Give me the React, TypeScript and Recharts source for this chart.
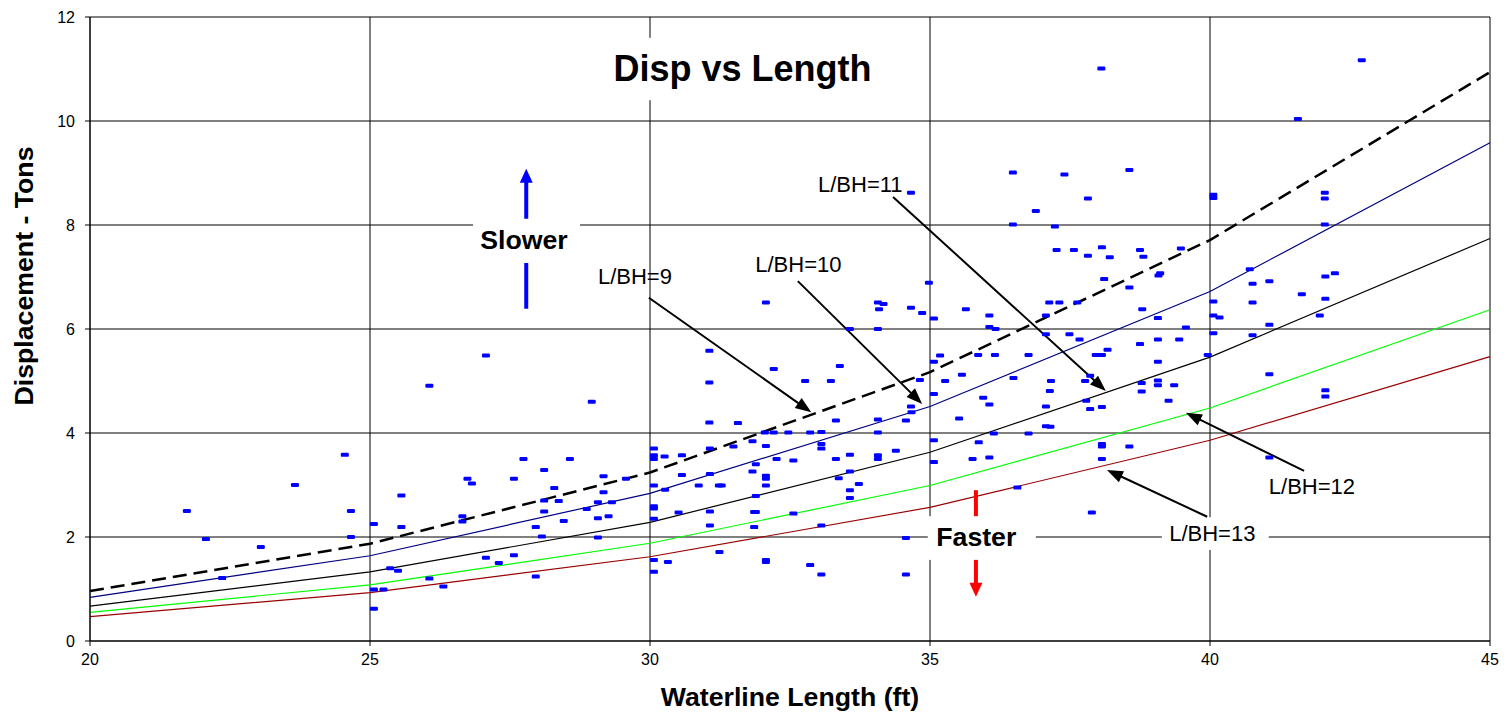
import React from 'react';
import {
  ComposedChart,
  Line,
  Scatter,
  XAxis,
  YAxis,
  CartesianGrid,
  ReferenceLine,
  ReferenceArea,
  ReferenceDot,
} from 'recharts';

const FONT = '"Liberation Sans", Arial, Helvetica, sans-serif';

// ---------- data ----------
const lengthsFt = [20, 25, 30, 35, 40, 45];
const dispTicks = [0, 2, 4, 6, 8, 10, 12];

const lbh9 = [0.96, 1.87, 3.24, 5.17, 7.71, 10.94];
const lbh10 = [0.84, 1.64, 2.84, 4.51, 6.72, 9.58];
const lbh11 = [0.67, 1.33, 2.28, 3.63, 5.46, 7.74];
const lbh12 = [0.55, 1.08, 1.88, 2.99, 4.48, 6.37];
const lbh13 = [0.47, 0.93, 1.62, 2.57, 3.86, 5.47];

// [waterline length ft, displacement tons]
const boats: [number, number][] = [
  [21.73, 2.5], [22.07, 1.96], [22.36, 1.21], [23.05, 1.81], [23.66, 3.0], [24.55, 3.58],
  [24.66, 2.5], [24.66, 2.0], [25.07, 2.25], [25.56, 2.8], [25.56, 2.19], [25.36, 1.4],
  [25.5, 1.35], [25.07, 0.99], [25.24, 0.99], [25.07, 0.62], [26.06, 1.2], [26.06, 4.91],
  [27.07, 5.49], [28.96, 4.6], [31.06, 5.58], [31.06, 4.97], [32.07, 6.51], [32.21, 5.23],
  [31.06, 4.2], [31.57, 4.19], [32.05, 4.01], [32.21, 4.01], [32.47, 4.01], [26.65, 2.4],
  [26.65, 2.3], [26.31, 1.05], [26.74, 3.12], [26.82, 3.03], [27.74, 3.5], [27.57, 3.12],
  [28.11, 3.29], [28.57, 3.5], [28.29, 2.94], [28.11, 2.7], [28.37, 2.69], [28.11, 2.49],
  [27.96, 2.19], [28.07, 2.01], [28.46, 2.31], [29.17, 3.17], [29.17, 2.86], [29.07, 2.67],
  [29.32, 2.67], [28.87, 2.54], [29.07, 2.36], [29.26, 2.4], [29.07, 1.99], [29.57, 3.12],
  [27.07, 1.6], [27.3, 1.5], [27.57, 1.65], [27.96, 1.24], [30.07, 3.7], [30.07, 3.57],
  [30.07, 3.5], [30.26, 3.55], [30.57, 3.57], [31.07, 3.7], [31.49, 3.74], [31.83, 3.84],
  [32.07, 3.75], [30.07, 2.99], [30.27, 2.91], [30.57, 3.19], [31.07, 3.21], [30.87, 2.99],
  [31.23, 2.99], [31.28, 2.99], [31.83, 3.26], [31.89, 3.4], [32.07, 3.18], [32.07, 3.12],
  [32.07, 2.99], [32.26, 3.5], [31.89, 2.79], [30.07, 2.59], [30.07, 2.55], [30.07, 2.35],
  [30.51, 2.47], [31.07, 2.49], [31.07, 2.22], [31.86, 2.48], [31.89, 2.48], [31.86, 2.19],
  [31.24, 1.71], [30.07, 1.56], [30.32, 1.52], [30.07, 1.33], [32.07, 1.56], [32.07, 1.52],
  [38.06, 11.01], [34.66, 8.62], [36.48, 9.01], [37.4, 8.97], [38.56, 9.06], [37.82, 8.51],
  [36.89, 8.27], [36.48, 8.01], [37.23, 7.97], [37.26, 7.52], [37.57, 7.52], [37.82, 7.41],
  [38.07, 7.57], [38.21, 7.38], [38.75, 7.52], [38.11, 6.96], [38.56, 6.8], [34.98, 6.89],
  [34.07, 6.51], [34.17, 6.48], [34.09, 6.38], [34.66, 6.41], [34.86, 6.31], [35.07, 6.2],
  [35.64, 6.38], [36.06, 6.26], [36.06, 6.04], [36.17, 6.0], [37.13, 6.51], [37.31, 6.51],
  [37.63, 6.51], [37.07, 6.26], [37.07, 5.9], [37.49, 5.9], [37.67, 5.8], [33.57, 6.0],
  [34.07, 6.0], [33.39, 5.29], [32.77, 5.0], [33.23, 5.0], [35.07, 5.37], [35.18, 5.49],
  [35.86, 5.5], [36.16, 5.5], [36.76, 5.5], [34.82, 5.02], [35.27, 5.0], [35.57, 5.12],
  [36.49, 5.06], [37.16, 5.0], [37.14, 4.81], [37.77, 5.0], [37.86, 5.1], [37.96, 5.5],
  [38.07, 5.5], [38.17, 5.6], [38.75, 5.71], [35.07, 4.75], [34.66, 4.51], [34.67, 4.4],
  [35.95, 4.68], [36.06, 4.55], [37.07, 4.51], [37.79, 4.62], [37.86, 4.46], [38.07, 4.5],
  [33.32, 4.24], [34.07, 4.26], [34.57, 4.24], [35.52, 4.28], [37.07, 4.13], [37.15, 4.12],
  [32.86, 4.01], [33.06, 4.02], [34.07, 4.01], [36.14, 3.99], [36.76, 3.99], [42.71, 11.17],
  [41.57, 10.04], [40.06, 8.58], [40.06, 8.52], [42.05, 8.62], [42.05, 8.51], [42.05, 8.01],
  [38.81, 7.39], [39.48, 7.55], [39.08, 7.03], [39.11, 7.07], [40.71, 7.15], [40.76, 6.87],
  [41.06, 6.92], [42.06, 7.01], [42.23, 7.07], [41.64, 6.67], [42.06, 6.58], [40.76, 6.51],
  [40.06, 6.53], [40.06, 6.26], [40.17, 6.22], [38.79, 6.38], [39.07, 6.21], [39.57, 6.03],
  [41.06, 6.08], [41.96, 6.26], [40.06, 5.92], [40.76, 5.88], [39.07, 5.8], [39.45, 5.8],
  [39.96, 5.5], [39.07, 5.37], [41.06, 5.13], [38.78, 4.96], [38.78, 4.8], [39.07, 5.01],
  [39.07, 4.92], [39.36, 4.92], [39.26, 4.62], [42.06, 4.82], [42.06, 4.7], [41.06, 3.53],
  [33.06, 3.79], [33.06, 3.7], [32.56, 3.47], [33.32, 3.5], [33.57, 3.58], [34.07, 3.57],
  [34.07, 3.5], [34.39, 3.66], [33.37, 3.13], [33.57, 3.26], [33.73, 3.02], [33.57, 2.9],
  [33.57, 2.75], [32.56, 2.45], [33.06, 2.22], [34.57, 1.98], [32.86, 1.46], [33.06, 1.28],
  [34.57, 1.28], [35.07, 3.86], [35.07, 3.44], [35.87, 3.82], [35.76, 3.5], [36.06, 3.53],
  [36.56, 2.95], [38.07, 3.79], [38.07, 3.74], [38.07, 3.5], [38.56, 3.74], [37.89, 2.47],
];

const lineRows = lengthsFt.map((x, i) => ({
  x,
  l9: lbh9[i],
  l10: lbh10[i],
  l11: lbh11[i],
  l12: lbh12[i],
  l13: lbh13[i],
}));
const boatRows = boats.map(([x, y]) => ({ x, y }));

// ---------- annotations (data coordinates) ----------
const boxedTexts = [
  { key: 'title', text: 'Disp vs Length', x1: 29.16, x2: 34.16, y1: 10.4, y2: 11.6, size: 36, bold: true, dx: -0.5, base: 43 },
  { key: 'slower', text: 'Slower', x1: 26.84, x2: 28.75, y1: 7.27, y2: 8.12, size: 26.7, bold: true, dx: -2.5, base: 30.5 },
  { key: 'faster', text: 'Faster', x1: 34.96, x2: 36.89, y1: 1.56, y2: 2.4, size: 26.7, bold: true, dx: -5.5, base: 29.7 },
  { key: 'lbh13', text: 'L/BH=13', x1: 39.14, x2: 41.05, y1: 1.75, y2: 2.38, size: 22, bold: false, dx: -3, base: 24 },
];

const curveLabels = [
  { text: 'L/BH=9', x: 29.07, y: 6.86 },
  { text: 'L/BH=10', x: 31.88, y: 7.1 },
  { text: 'L/BH=11', x: 33.0, y: 8.63 },
  { text: 'L/BH=12', x: 41.05, y: 2.83 },
];

const pointerArrows = [
  { from: [29.98, 6.6], to: [32.88, 4.4] },
  { from: [32.64, 6.92], to: [34.86, 4.56] },
  { from: [34.34, 8.54], to: [38.14, 4.81] },
  { from: [41.68, 3.27], to: [39.57, 4.39] },
  { from: [39.95, 2.39], to: [38.16, 3.29] },
];

const speedArrows = [
  { from: [27.79, 6.39], to: [27.79, 7.27], color: '#0000FF', head: false },
  { from: [27.79, 8.12], to: [27.79, 9.08], color: '#0000FF', head: true },
  { from: [35.82, 2.9], to: [35.82, 2.4], color: '#FF0000', head: false },
  { from: [35.82, 1.56], to: [35.82, 0.85], color: '#FF0000', head: true },
];

// ---------- shapes ----------
const Dash = (props: any) => {
  const { cx, cy } = props;
  if (cx == null || cy == null) return null;
  return <rect x={cx - 4} y={cy - 2} width={8} height={4} rx={1.2} fill="#0000FF" />;
};

const makeArrow = (color: string, w: number, head: boolean, hl: number, hw: number) => (p: any) => {
  const { x1, y1, x2, y2 } = p;
  if (x1 == null) return null;
  if (!head) {
    return <line x1={x1} y1={y1} x2={x2} y2={y2} stroke={color} strokeWidth={w} />;
  }
  const dx = x2 - x1;
  const dy = y2 - y1;
  const len = Math.hypot(dx, dy) || 1;
  const ux = dx / len;
  const uy = dy / len;
  const bx = x2 - ux * hl;
  const by = y2 - uy * hl;
  const px = -uy * hw;
  const py = ux * hw;
  return (
    <g>
      <line x1={x1} y1={y1} x2={bx + ux * 1} y2={by + uy * 1} stroke={color} strokeWidth={w} />
      <polygon points={`${x2},${y2} ${bx + px},${by + py} ${bx - px},${by - py}`} fill={color} />
    </g>
  );
};

const makeBox = (t: (typeof boxedTexts)[number]) => (p: any) => {
  const { x, y, width, height } = p;
  if (x == null) return null;
  return (
    <g>
      <rect x={x} y={y} width={width} height={height} fill="#FFFFFF" />
      <text
        x={x + width / 2 + t.dx}
        y={y + t.base}
        textAnchor="middle"
        fontFamily={FONT}
        fontSize={t.size}
        fontWeight={t.bold ? 'bold' : 'normal'}
        fill="#000"
      >
        {t.text}
      </text>
    </g>
  );
};

const makeText = (text: string) => (p: any) => {
  const { cx, cy } = p;
  if (cx == null) return null;
  return (
    <text x={cx} y={cy} fontFamily={FONT} fontSize={22} fill="#000">
      {text}
    </text>
  );
};

const XTitle = (props: any) => {
  const vb = props.viewBox || { x: 90, y: 641, width: 1400, height: 78 };
  return (
    <text
      x={vb.x + vb.width / 2}
      y={vb.y + 65}
      textAnchor="middle"
      fontFamily={FONT}
      fontSize={26.7}
      fontWeight="bold"
      fill="#000"
    >
      Waterline Length (ft)
    </text>
  );
};

const YTitle = () => {
  const cx = 33;
  const cy = 276;
  return (
    <text
      x={cx}
      y={cy}
      textAnchor="middle"
      transform={`rotate(-90, ${cx}, ${cy})`}
      fontFamily={FONT}
      fontSize={26.7}
      fontWeight="bold"
      fill="#000"
    >
      Displacement - Tons
    </text>
  );
};

const tickStyle = { fontFamily: FONT, fontSize: 16, fill: '#000' };

export default function App() {
  return (
    <div style={{ position: 'absolute', left: 0, top: 0, width: 1508, height: 719, background: '#fff' }}>
      <ComposedChart
        width={1508}
        height={719}
        data={lineRows}
        margin={{ top: 17, right: 18, bottom: 0, left: 0 }}
        style={{ fontFamily: FONT }}
      >
        <CartesianGrid stroke="#000" strokeWidth={1} />
        <XAxis
          type="number"
          dataKey="x"
          domain={[20, 45]}
          ticks={lengthsFt}
          interval={0}
          height={78}
          tick={tickStyle}
          tickSize={5}
          tickMargin={8}
          axisLine={{ stroke: '#000' }}
          tickLine={{ stroke: '#000' }}
          label={<XTitle />}
        />
        <YAxis
          type="number"
          domain={[0, 12]}
          ticks={dispTicks}
          interval={0}
          width={90}
          tick={tickStyle}
          tickSize={5}
          tickMargin={10}
          axisLine={{ stroke: '#000' }}
          tickLine={{ stroke: '#000' }}
          label={<YTitle />}
        />
        <Line dataKey="l9" type="linear" stroke="#000000" strokeWidth={2.5} strokeDasharray="14 7" dot={false} activeDot={false} isAnimationActive={false} />
        <Line dataKey="l10" type="linear" stroke="#000080" strokeWidth={1.2} dot={false} activeDot={false} isAnimationActive={false} />
        <Line dataKey="l11" type="linear" stroke="#000000" strokeWidth={1.2} dot={false} activeDot={false} isAnimationActive={false} />
        <Line dataKey="l12" type="linear" stroke="#00FF00" strokeWidth={1.2} dot={false} activeDot={false} isAnimationActive={false} />
        <Line dataKey="l13" type="linear" stroke="#990000" strokeWidth={1.2} dot={false} activeDot={false} isAnimationActive={false} />
        <Scatter data={boatRows} dataKey="y" shape={<Dash />} isAnimationActive={false} />
        {boxedTexts.map((t) => (
          <ReferenceArea key={t.key} x1={t.x1} x2={t.x2} y1={t.y1} y2={t.y2} shape={makeBox(t)} />
        ))}
        {speedArrows.map((a, i) => (
          <ReferenceLine
            key={`s${i}`}
            segment={[{ x: a.from[0], y: a.from[1] }, { x: a.to[0], y: a.to[1] }]}
            shape={makeArrow(a.color, 4, a.head, 14, 6.5)}
          />
        ))}
        {pointerArrows.map((a, i) => (
          <ReferenceLine
            key={`p${i}`}
            segment={[{ x: a.from[0], y: a.from[1] }, { x: a.to[0], y: a.to[1] }]}
            shape={makeArrow('#000000', 2, true, 16, 6)}
          />
        ))}
        {curveLabels.map((c) => (
          <ReferenceDot key={c.text} x={c.x} y={c.y} r={0} shape={makeText(c.text)} />
        ))}
      </ComposedChart>
    </div>
  );
}
